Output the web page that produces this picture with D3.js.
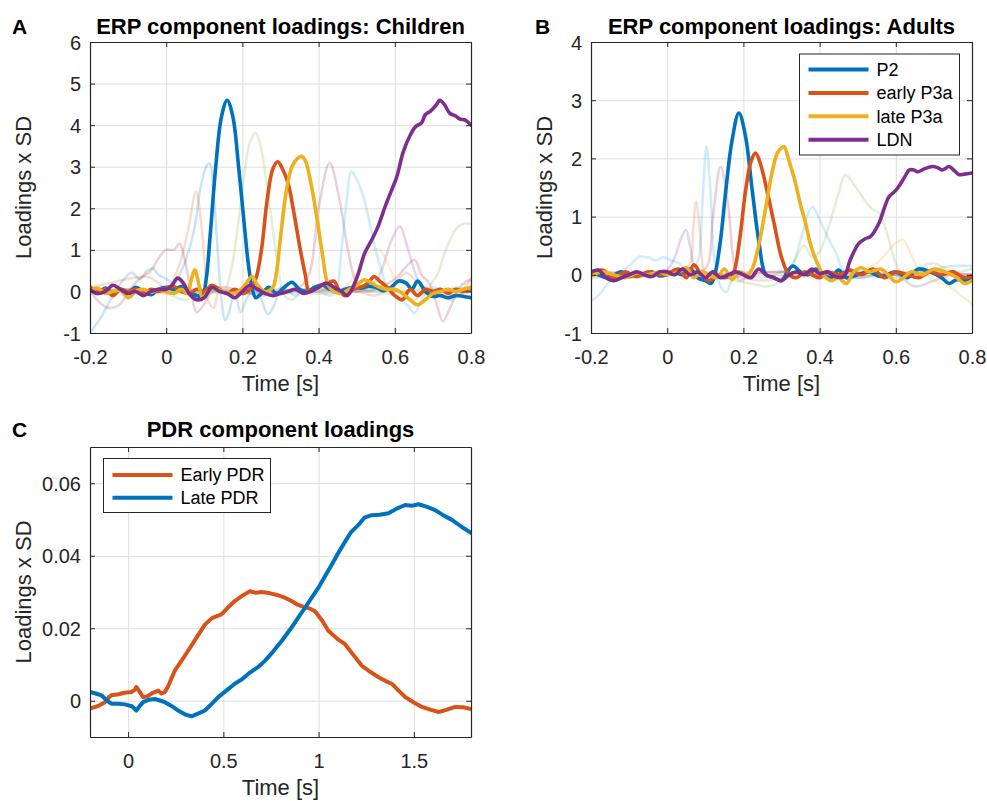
<!DOCTYPE html>
<html>
<head>
<meta charset="utf-8">
<script src="https://cdn.jsdelivr.net/npm/d3@7"></script>
<style>
  body { margin: 0; background: #fff; }
  text { font-family: "Liberation Sans", Arial, Helvetica, sans-serif; }
</style>
</head>
<body>
<script>
// ---- data (time [s], loading) ----

// tick values
const ticksErpX = [-0.2, 0, 0.2, 0.4, 0.6, 0.8];
const ticksChildY = [-1, 0, 1, 2, 3, 4, 5, 6];
const ticksAdultY = [-1, 0, 1, 2, 3, 4];
const ticksPdrX = [0, 0.5, 1, 1.5];
const ticksPdrY = [0, 0.02, 0.04, 0.06];

const erpNames = ['P2', 'early P3a', 'late P3a', 'LDN'];
const pdrNames = ['Early PDR', 'Late PDR'];

// Panel A, children: highlighted components
const childP2 = [[-0.2,0.05],[-0.18,-0.05],[-0.16,0.08],[-0.14,-0.05],[-0.12,0.05],[-0.1,-0.02],[-0.08,0.1],[-0.06,0.0],[-0.04,-0.08],[-0.02,0.05],[0,0.1],[0.02,0.05],[0.04,0.12],[0.06,0.0],[0.08,-0.1],[0.095,-0.1],[0.105,0.3],[0.115,1.3],[0.13,3.0],[0.145,4.2],[0.16,4.6],[0.175,4.2],[0.19,3.0],[0.205,1.6],[0.215,0.7],[0.225,0.1],[0.235,-0.15],[0.25,-0.05],[0.27,0.1],[0.29,-0.05],[0.31,0.1],[0.33,0.22],[0.35,0.05],[0.37,0.0],[0.39,0.1],[0.41,0.15],[0.43,0.05],[0.45,0.0],[0.47,0.05],[0.49,0.1],[0.51,0.08],[0.53,0.12],[0.55,0.1],[0.57,0.02],[0.59,0.1],[0.61,0.25],[0.63,0.2],[0.645,0.05],[0.66,0.25],[0.68,0.0],[0.7,-0.12],[0.72,-0.1],[0.74,-0.15],[0.76,-0.1],[0.78,-0.12],[0.8,-0.15]];
const childEarlyP3a = [[-0.2,0.1],[-0.18,0.0],[-0.16,0.05],[-0.14,-0.1],[-0.12,0.05],[-0.1,0.0],[-0.08,0.05],[-0.06,-0.05],[-0.04,0.05],[-0.02,0.0],[0,0.08],[0.02,0.12],[0.04,0.0],[0.06,-0.05],[0.08,0.05],[0.1,0.0],[0.12,0.15],[0.14,0.05],[0.16,-0.05],[0.18,0.05],[0.2,-0.05],[0.22,0.05],[0.235,0.3],[0.25,1.0],[0.265,2.2],[0.28,2.95],[0.293,3.12],[0.305,2.95],[0.32,2.6],[0.335,1.9],[0.35,1.1],[0.365,0.4],[0.375,0.0],[0.39,0.05],[0.41,0.15],[0.425,0.2],[0.44,0.25],[0.455,0.0],[0.47,-0.1],[0.49,0.05],[0.51,0.1],[0.53,0.2],[0.545,0.36],[0.56,0.25],[0.58,0.1],[0.6,-0.1],[0.62,-0.2],[0.64,0.05],[0.66,-0.1],[0.68,0.05],[0.7,0.0],[0.72,0.05],[0.74,-0.05],[0.76,0.05],[0.78,0.0],[0.8,0.08]];
const childLateP3a = [[-0.2,0.0],[-0.18,0.08],[-0.16,-0.05],[-0.14,0.0],[-0.12,0.02],[-0.1,-0.15],[-0.08,0.0],[-0.06,0.05],[-0.04,-0.02],[-0.02,0.05],[0,0.0],[0.02,-0.05],[0.04,0.05],[0.055,-0.05],[0.065,0.25],[0.075,0.52],[0.085,0.2],[0.095,-0.15],[0.11,0.0],[0.13,0.05],[0.15,0.0],[0.17,-0.05],[0.19,0.0],[0.21,0.2],[0.225,0.36],[0.24,0.15],[0.26,0.0],[0.28,0.1],[0.29,0.5],[0.3,1.3],[0.315,2.4],[0.33,3.0],[0.345,3.2],[0.355,3.25],[0.365,3.15],[0.38,2.6],[0.395,1.8],[0.41,0.9],[0.425,0.15],[0.44,0.0],[0.46,-0.05],[0.48,0.05],[0.5,0.15],[0.52,0.28],[0.54,0.2],[0.56,0.1],[0.58,0.05],[0.6,0.05],[0.62,-0.05],[0.64,-0.2],[0.66,-0.32],[0.68,-0.2],[0.7,-0.05],[0.72,0.0],[0.74,0.05],[0.76,0.0],[0.78,0.05],[0.8,0.1]];
const childLDN = [[-0.2,0.05],[-0.18,-0.05],[-0.16,0.0],[-0.14,0.15],[-0.12,0.05],[-0.1,-0.05],[-0.08,0.0],[-0.06,-0.1],[-0.04,0.0],[-0.02,0.05],[0,0.05],[0.015,0.15],[0.03,0.32],[0.045,0.2],[0.06,-0.05],[0.08,-0.2],[0.1,-0.15],[0.12,0.1],[0.14,0.0],[0.16,-0.05],[0.18,-0.15],[0.2,0.0],[0.22,0.15],[0.24,0.05],[0.26,-0.05],[0.28,-0.1],[0.3,-0.05],[0.32,0.0],[0.34,0.05],[0.36,-0.05],[0.38,0.0],[0.4,0.1],[0.42,0.2],[0.44,0.1],[0.46,0.0],[0.475,-0.1],[0.49,0.1],[0.505,0.45],[0.52,0.9],[0.54,1.25],[0.556,1.56],[0.575,2.05],[0.59,2.4],[0.605,2.75],[0.622,3.35],[0.64,3.75],[0.655,3.97],[0.67,4.05],[0.68,4.25],[0.695,4.35],[0.71,4.5],[0.718,4.6],[0.73,4.5],[0.744,4.29],[0.76,4.22],[0.77,4.15],[0.785,4.12],[0.8,4.0]];

// Panel A, children: remaining components (drawn faint)
const childOther1 = [[-0.2,-1.0],[-0.17,-0.6],[-0.14,-0.1],[-0.11,0.3],[-0.09,0.45],[-0.07,0.3],[-0.05,0.5],[-0.035,0.55],[-0.02,0.4],[0.0,0.3],[0.02,0.2],[0.04,0.5],[0.06,1.0],[0.075,1.56],[0.09,2.5],[0.105,3.0],[0.114,3.08],[0.125,2.3],[0.135,1.0],[0.145,-0.2],[0.155,-0.7],[0.165,-0.5],[0.18,0.0],[0.195,-0.5],[0.21,-0.2],[0.23,0.1],[0.25,-0.2],[0.267,-0.55],[0.285,-0.3],[0.3,0.1],[0.32,0.0],[0.34,-0.1],[0.36,0.05],[0.4,0.0],[0.44,0.05],[0.5,0.0],[0.56,0.05],[0.62,0.0],[0.68,0.05],[0.74,0.0],[0.8,0.05]];
const childOther2 = [[-0.2,0.0],[-0.17,-0.3],[-0.15,-0.4],[-0.12,-0.3],[-0.1,0.0],[-0.07,0.3],[-0.04,0.5],[-0.02,0.8],[0.0,1.0],[0.02,1.0],[0.035,1.15],[0.05,0.7],[0.065,0.0],[0.08,-0.5],[0.1,-0.3],[0.12,0.0],[0.15,0.1],[0.2,0.0],[0.25,-0.1],[0.3,0.0],[0.35,0.1],[0.376,0.44],[0.4,2.0],[0.429,3.09],[0.455,2.2],[0.477,1.0],[0.5,0.2],[0.53,0.0],[0.56,0.1],[0.6,0.3],[0.63,0.6],[0.652,0.76],[0.67,0.4],[0.69,0.2],[0.71,-0.3],[0.726,-0.72],[0.745,-0.4],[0.77,0.1],[0.8,0.3]];
const childOther3 = [[-0.2,0.1],[-0.15,0.2],[-0.1,0.3],[-0.05,0.35],[-0.02,0.2],[0.0,0.0],[0.02,0.3],[0.04,0.8],[0.06,1.6],[0.078,2.4],[0.09,1.8],[0.1,0.8],[0.11,-0.2],[0.125,-0.4],[0.14,0.0],[0.2,0.0],[0.3,0.05],[0.4,-0.05],[0.5,0.0],[0.55,-0.1],[0.6,0.2],[0.63,0.45],[0.66,0.2],[0.7,0.0],[0.75,-0.2],[0.8,0.3]];
const childOther4 = [[-0.2,0.0],[-0.1,0.05],[0.0,-0.05],[0.05,-0.2],[0.1,0.0],[0.15,0.0],[0.17,0.5],[0.188,1.56],[0.205,2.8],[0.22,3.6],[0.235,3.81],[0.25,3.4],[0.265,2.5],[0.28,1.5],[0.295,0.5],[0.31,-0.1],[0.33,-0.2],[0.36,0.0],[0.4,0.05],[0.45,0.0],[0.5,0.05],[0.55,0.0],[0.6,-0.1],[0.65,-0.2],[0.68,0.0],[0.7,0.25],[0.714,0.45],[0.73,0.9],[0.749,1.32],[0.765,1.55],[0.783,1.64],[0.8,1.62]];
const childOther5 = [[-0.2,0.0],[-0.1,0.0],[0.0,0.05],[0.1,-0.05],[0.2,0.05],[0.3,-0.05],[0.4,0.0],[0.43,-0.1],[0.445,0.0],[0.46,1.0],[0.475,2.3],[0.486,2.89],[0.5,2.7],[0.52,2.2],[0.535,1.6],[0.547,1.1],[0.565,0.5],[0.58,0.1],[0.6,-0.1],[0.63,-0.3],[0.652,-0.52],[0.67,-0.2],[0.7,0.1],[0.73,0.0],[0.76,0.1],[0.8,0.0]];
const childOther6 = [[-0.2,0.0],[-0.1,0.05],[0.0,0.0],[0.1,0.05],[0.2,-0.05],[0.3,0.0],[0.4,0.05],[0.5,0.0],[0.53,0.1],[0.56,0.4],[0.59,1.2],[0.613,1.56],[0.635,1.0],[0.66,0.3],[0.69,0.0],[0.72,0.0],[0.76,-0.1],[0.8,0.0]];
const childOther7 = [[-0.2,0.05],[-0.1,0.0],[0.0,-0.05],[0.1,0.0],[0.2,0.05],[0.3,0.0],[0.4,0.05],[0.45,0.0],[0.48,0.2],[0.51,0.6],[0.535,0.95],[0.56,1.0],[0.585,0.6],[0.61,0.15],[0.64,0.0],[0.7,-0.05],[0.8,0.0]];

// Panel B, adults: highlighted components
const adultP2 = [[-0.2,0.05],[-0.18,0.0],[-0.16,-0.05],[-0.14,0.0],[-0.12,0.05],[-0.1,-0.03],[-0.08,0.02],[-0.06,0.0],[-0.04,0.05],[-0.02,-0.02],[0.0,0.0],[0.02,0.05],[0.04,0.0],[0.06,0.1],[0.08,-0.05],[0.1,-0.1],[0.115,-0.15],[0.125,0.0],[0.14,0.6],[0.154,1.46],[0.17,2.3],[0.188,2.78],[0.205,2.4],[0.223,1.46],[0.24,0.6],[0.259,0.0],[0.28,-0.05],[0.3,-0.1],[0.315,0.05],[0.33,0.15],[0.35,0.05],[0.37,0.0],[0.39,0.1],[0.41,0.0],[0.43,-0.05],[0.45,0.08],[0.47,-0.05],[0.5,0.0],[0.53,0.05],[0.56,-0.03],[0.6,0.05],[0.63,-0.05],[0.66,0.1],[0.69,0.05],[0.72,-0.05],[0.74,-0.15],[0.76,-0.08],[0.78,-0.1],[0.8,-0.05]];
const adultEarlyP3a = [[-0.2,0.02],[-0.17,0.08],[-0.14,-0.05],[-0.11,0.05],[-0.08,-0.03],[-0.05,0.05],[-0.02,0.0],[0.0,0.02],[0.03,0.1],[0.05,-0.05],[0.07,0.17],[0.09,0.0],[0.11,-0.1],[0.13,0.0],[0.15,-0.05],[0.165,-0.02],[0.175,0.05],[0.19,0.6],[0.206,1.46],[0.22,1.95],[0.232,2.09],[0.245,1.9],[0.26,1.5],[0.28,0.9],[0.3,0.3],[0.32,0.0],[0.34,-0.05],[0.36,0.05],[0.38,0.0],[0.4,-0.05],[0.42,0.05],[0.45,0.0],[0.48,0.08],[0.51,0.0],[0.54,0.1],[0.57,-0.05],[0.6,0.05],[0.63,0.0],[0.66,-0.05],[0.69,0.05],[0.72,0.0],[0.75,0.05],[0.78,-0.05],[0.8,-0.02]];
const adultLateP3a = [[-0.2,-0.02],[-0.17,0.05],[-0.14,0.0],[-0.11,-0.05],[-0.08,0.03],[-0.05,0.0],[-0.02,0.05],[0.0,0.0],[0.03,0.05],[0.05,0.12],[0.07,-0.05],[0.09,0.05],[0.11,0.0],[0.13,-0.05],[0.15,0.1],[0.17,-0.08],[0.19,0.05],[0.21,0.0],[0.223,0.1],[0.24,0.5],[0.259,1.17],[0.275,1.75],[0.289,2.09],[0.3,2.18],[0.307,2.2],[0.32,1.95],[0.337,1.57],[0.35,1.2],[0.363,0.89],[0.375,0.55],[0.39,0.26],[0.41,0.0],[0.43,-0.1],[0.45,-0.05],[0.47,-0.15],[0.49,0.05],[0.51,0.12],[0.53,0.05],[0.56,0.1],[0.58,0.0],[0.6,-0.12],[0.62,-0.05],[0.64,0.05],[0.67,0.0],[0.7,0.1],[0.73,0.05],[0.76,-0.05],[0.78,-0.15],[0.8,-0.1]];
const adultLDN = [[-0.2,0.05],[-0.18,0.08],[-0.16,-0.05],[-0.14,-0.1],[-0.12,-0.05],[-0.1,0.0],[-0.08,0.05],[-0.06,0.0],[-0.04,-0.03],[-0.02,0.05],[0.0,0.05],[0.02,0.0],[0.04,0.1],[0.06,0.0],[0.08,0.05],[0.1,-0.05],[0.12,0.05],[0.14,-0.05],[0.16,0.0],[0.18,0.05],[0.2,0.0],[0.22,-0.05],[0.24,0.1],[0.26,0.0],[0.28,-0.05],[0.3,-0.1],[0.32,0.0],[0.34,0.05],[0.36,0.0],[0.38,0.1],[0.4,0.02],[0.42,0.05],[0.44,-0.03],[0.464,-0.03],[0.48,0.25],[0.503,0.54],[0.52,0.62],[0.534,0.66],[0.556,0.89],[0.57,1.15],[0.582,1.34],[0.6,1.45],[0.613,1.57],[0.625,1.7],[0.635,1.8],[0.648,1.8],[0.658,1.77],[0.675,1.82],[0.696,1.86],[0.71,1.84],[0.722,1.8],[0.74,1.86],[0.755,1.78],[0.766,1.72],[0.78,1.73],[0.8,1.75]];

// Panel B, adults: remaining components (faint)
const adultOther1 = [[-0.2,-0.45],[-0.18,-0.35],[-0.15,-0.1],[-0.13,0.03],[-0.1,0.15],[-0.074,0.31],[-0.05,0.3],[-0.03,0.25],[-0.01,0.3],[0.01,0.25],[0.03,0.2],[0.05,0.1],[0.07,0.1],[0.083,0.3],[0.093,1.3],[0.103,2.21],[0.113,1.5],[0.125,0.2],[0.14,-0.2],[0.155,-0.3],[0.17,-0.1],[0.2,0.0],[0.25,-0.05],[0.3,0.05],[0.327,0.15],[0.35,0.6],[0.37,1.05],[0.381,1.17],[0.4,0.95],[0.425,0.6],[0.445,0.35],[0.46,0.1],[0.5,-0.05],[0.55,0.0],[0.6,-0.05],[0.65,0.05],[0.7,0.1],[0.75,0.15],[0.8,0.15]];
const adultOther2 = [[-0.2,0.0],[-0.15,0.05],[-0.1,0.0],[-0.05,0.05],[0.0,0.0],[0.05,0.05],[0.1,0.1],[0.12,1.0],[0.14,1.86],[0.16,1.2],[0.175,0.2],[0.19,-0.1],[0.22,0.0],[0.3,0.05],[0.4,0.0],[0.5,0.05],[0.6,0.0],[0.7,0.05],[0.8,0.0]];
const adultOther3 = [[-0.2,0.05],[-0.1,-0.05],[0.0,0.05],[0.03,0.05],[0.06,0.2],[0.068,0.8],[0.076,1.26],[0.085,0.8],[0.095,0.1],[0.11,-0.1],[0.15,0.0],[0.25,-0.1],[0.35,0.0],[0.45,0.05],[0.55,0.0],[0.65,0.05],[0.75,0.0],[0.8,-0.05]];
const adultOther4 = [[-0.2,-0.05],[-0.1,0.0],[0.0,0.1],[0.02,0.3],[0.035,0.6],[0.049,0.77],[0.06,0.5],[0.075,0.0],[0.09,-0.1],[0.15,0.0],[0.3,0.05],[0.5,-0.05],[0.6,0.0],[0.65,-0.2],[0.7,-0.1],[0.75,0.0],[0.8,0.0]];
const adultOther5 = [[-0.2,0.0],[-0.1,-0.05],[0.0,0.0],[0.1,0.05],[0.18,-0.1],[0.22,-0.15],[0.26,-0.2],[0.3,-0.1],[0.33,0.2],[0.36,0.5],[0.38,0.3],[0.4,0.4],[0.425,0.85],[0.45,1.4],[0.468,1.72],[0.49,1.55],[0.512,1.34],[0.535,1.15],[0.556,1.06],[0.57,0.85],[0.582,0.6],[0.6,0.2],[0.62,0.0],[0.65,0.1],[0.7,0.2],[0.75,0.05],[0.8,0.1]];
const adultOther6 = [[-0.2,0.05],[-0.1,0.0],[0.0,0.05],[0.1,0.0],[0.2,0.05],[0.3,0.0],[0.4,-0.05],[0.5,0.05],[0.55,0.2],[0.6,0.55],[0.62,0.6],[0.64,0.35],[0.66,0.1],[0.7,-0.1],[0.74,-0.2],[0.77,-0.35],[0.8,-0.5]];

// Panel C, pupil dilation response
const earlyPDR = [[-0.2,-0.0022],[-0.16,-0.0015],[-0.123,-0.0005],[-0.1,0.001],[-0.088,0.0015],[-0.05,0.0018],[-0.02,0.0022],[0.017,0.0024],[0.035,0.003],[0.043,0.0038],[0.06,0.0025],[0.079,0.001],[0.1,0.0012],[0.13,0.0022],[0.158,0.0028],[0.175,0.002],[0.193,0.0024],[0.21,0.004],[0.245,0.0083],[0.28,0.011],[0.315,0.0138],[0.36,0.0175],[0.403,0.021],[0.44,0.0228],[0.49,0.0238],[0.52,0.0255],[0.56,0.0275],[0.6,0.029],[0.64,0.0302],[0.67,0.0298],[0.7,0.03],[0.74,0.0297],[0.788,0.0291],[0.82,0.0285],[0.858,0.0275],[0.89,0.0265],[0.911,0.0261],[0.95,0.0255],[0.981,0.0247],[1.02,0.022],[1.051,0.0193],[1.1,0.017],[1.139,0.0156],[1.18,0.0128],[1.226,0.0097],[1.27,0.008],[1.314,0.0065],[1.35,0.0055],[1.384,0.0047],[1.42,0.0028],[1.455,0.001],[1.5,-0.0005],[1.542,-0.0017],[1.59,-0.0025],[1.63,-0.0031],[1.67,-0.0025],[1.717,-0.0017],[1.76,-0.0018],[1.8,-0.0023]];
const latePDR = [[-0.2,0.0024],[-0.17,0.002],[-0.14,0.0015],[-0.11,0.0],[-0.088,-0.0008],[-0.05,-0.0008],[-0.018,-0.001],[0.02,-0.0015],[0.043,-0.0027],[0.06,-0.0015],[0.079,-0.0004],[0.11,0.0003],[0.14,0.0005],[0.17,0.0],[0.193,-0.0004],[0.23,-0.0015],[0.263,-0.0027],[0.3,-0.0038],[0.333,-0.0043],[0.37,-0.0035],[0.403,-0.0027],[0.44,-0.0008],[0.473,0.001],[0.52,0.003],[0.56,0.0047],[0.6,0.006],[0.63,0.0074],[0.68,0.0092],[0.718,0.011],[0.76,0.0135],[0.806,0.0165],[0.858,0.0202],[0.9,0.0235],[0.929,0.0257],[0.965,0.0285],[0.999,0.0312],[1.035,0.0345],[1.069,0.0375],[1.1,0.0405],[1.139,0.0439],[1.17,0.0465],[1.209,0.0485],[1.24,0.0505],[1.279,0.0512],[1.32,0.0513],[1.367,0.0517],[1.41,0.053],[1.455,0.054],[1.49,0.0538],[1.525,0.0542],[1.57,0.0535],[1.612,0.0526],[1.66,0.051],[1.7,0.0499],[1.75,0.048],[1.8,0.0463]];

// matlab default colour order
const colors = {
  blue: '#0072BD', red: '#D95319', yellow: '#EDB120', purple: '#7E2F8E',
  green: '#77AC30', cyan: '#4DBEEE', maroon: '#A2142F'
};
const axisColor = '#262626';

const svg = d3.select('body').append('svg')
  .attr('width', 987)
  .attr('height', 801);

const fmt = d => String(+d.toFixed(3));
let clipId = 0;

// axes frame with grid, returns scales and a clipped layer for the data
function makePanel(cfg) {
  const w = cfg.x1 - cfg.x0;
  const h = cfg.y1 - cfg.y0;
  const g = svg.append('g').attr('transform', `translate(${cfg.x0},${cfg.y0})`);
  const x = d3.scaleLinear().domain(cfg.xDomain).range([0, w]);
  const y = d3.scaleLinear().domain(cfg.yDomain).range([h, 0]);

  // grid
  g.append('g').attr('class', 'grid')
    .attr('transform', `translate(0,${h})`)
    .call(d3.axisBottom(x).tickValues(cfg.xTicks).tickSize(-h).tickFormat(''));
  g.append('g').attr('class', 'grid')
    .call(d3.axisLeft(y).tickValues(cfg.yTicks).tickSize(-w).tickFormat(''));
  g.selectAll('.grid .domain').remove();
  g.selectAll('.grid line').attr('stroke', '#dfdfdf').attr('stroke-width', 1);

  const id = 'clip' + (clipId++);
  g.append('clipPath').attr('id', id)
    .append('rect').attr('x', 0).attr('y', -2).attr('width', w).attr('height', h + 4);
  const plot = g.append('g').attr('clip-path', `url(#${id})`);

  return { g, x, y, w, h, plot, cfg };
}

// box, inward ticks, labels, title
function finishPanel(p) {
  const { g, x, y, w, h, cfg } = p;

  const xb = g.append('g').attr('transform', `translate(0,${h})`).attr('color', axisColor)
    .call(d3.axisBottom(x).tickValues(cfg.xTicks).tickSizeInner(-5).tickSizeOuter(0).tickFormat(fmt));
  xb.selectAll('text').attr('y', 30.5).attr('dy', 0).attr('font-size', 20);

  const yl = g.append('g').attr('color', axisColor)
    .call(d3.axisLeft(y).tickValues(cfg.yTicks).tickSizeInner(-5).tickSizeOuter(0).tickFormat(fmt));
  yl.selectAll('text').attr('x', -9).attr('dy', '0.35em').attr('font-size', 20);

  g.append('g').attr('color', axisColor)
    .call(d3.axisTop(x).tickValues(cfg.xTicks).tickSizeInner(-5).tickSizeOuter(0).tickFormat(''));
  g.append('g').attr('transform', `translate(${w},0)`).attr('color', axisColor)
    .call(d3.axisRight(y).tickValues(cfg.yTicks).tickSizeInner(-5).tickSizeOuter(0).tickFormat(''));
  g.selectAll('.domain').attr('stroke-width', 1.2);

  g.append('text')
    .attr('x', w / 2).attr('y', h + 58)
    .attr('text-anchor', 'middle')
    .attr('font-size', 22).attr('fill', axisColor)
    .text('Time [s]');

  g.append('text')
    .attr('transform', `translate(${cfg.yLabelX - cfg.x0},${h / 2}) rotate(-90)`)
    .attr('text-anchor', 'middle')
    .attr('font-size', 22).attr('fill', axisColor)
    .text('Loadings x SD');

  g.append('text')
    .attr('x', w / 2).attr('y', cfg.titleY - cfg.y0)
    .attr('text-anchor', 'middle')
    .attr('font-size', 22).attr('font-weight', 'bold').attr('fill', '#000')
    .text(cfg.title);

  svg.append('text')
    .attr('x', cfg.letterX).attr('y', cfg.titleY)
    .attr('font-size', 21).attr('font-weight', 'bold').attr('fill', '#000')
    .text(cfg.letter);
}

function drawLine(p, data, color, width, opacity, curve) {
  const line = d3.line()
    .x(d => p.x(d[0]))
    .y(d => p.y(d[1]))
    .curve(curve || d3.curveCatmullRom.alpha(0.5));
  p.plot.append('path')
    .datum(data)
    .attr('fill', 'none')
    .attr('stroke', color)
    .attr('stroke-width', width)
    .attr('stroke-opacity', opacity)
    .attr('stroke-linejoin', 'round')
    .attr('stroke-linecap', 'round')
    .attr('d', line);
}

function drawLegend(box, names, cols) {
  const lg = svg.append('g').attr('transform', `translate(${box.x},${box.y})`);
  lg.append('rect')
    .attr('width', box.w).attr('height', box.h)
    .attr('fill', '#fff').attr('stroke', axisColor).attr('stroke-width', 1);
  names.forEach((n, i) => {
    const cy = box.first + i * box.step;
    lg.append('line')
      .attr('x1', 9).attr('x2', 69).attr('y1', cy).attr('y2', cy)
      .attr('stroke', cols[i]).attr('stroke-width', 4);
    lg.append('text')
      .attr('x', 77).attr('y', cy).attr('dy', '0.35em')
      .attr('font-size', 18).attr('fill', '#000')
      .text(n);
  });
}

// ---- Panel A ----
const pA = makePanel({
  x0: 90, x1: 471, y0: 42, y1: 333,
  xDomain: [-0.2, 0.8], yDomain: [-1, 6],
  xTicks: ticksErpX, yTicks: ticksChildY,
  title: 'ERP component loadings: Children', titleY: 34,
  letter: 'A', letterX: 12, yLabelX: 31
});
[[childOther1, colors.blue, 0.2], [childOther2, colors.maroon, 0.2], [childOther3, colors.red, 0.2],
 [childOther4, colors.green, 0.2], [childOther5, colors.cyan, 0.28], [childOther6, colors.purple, 0.2],
 [childOther7, colors.yellow, 0.2]]
  .forEach(s => drawLine(pA, s[0], s[1], 2.5, s[2]));
drawLine(pA, childP2, colors.blue, 3.6, 1);
drawLine(pA, childEarlyP3a, colors.red, 3.6, 1);
drawLine(pA, childLateP3a, colors.yellow, 3.6, 1);
drawLine(pA, childLDN, colors.purple, 3.6, 1);
finishPanel(pA);

// ---- Panel B ----
const pB = makePanel({
  x0: 591, x1: 972, y0: 42, y1: 333,
  xDomain: [-0.2, 0.8], yDomain: [-1, 4],
  xTicks: ticksErpX, yTicks: ticksAdultY,
  title: 'ERP component loadings: Adults', titleY: 34,
  letter: 'B', letterX: 535, yLabelX: 552
});
[[adultOther1, colors.cyan, 0.28], [adultOther2, colors.maroon, 0.2], [adultOther3, colors.red, 0.2],
 [adultOther4, colors.purple, 0.2], [adultOther5, colors.green, 0.2], [adultOther6, colors.yellow, 0.22]]
  .forEach(s => drawLine(pB, s[0], s[1], 2.5, s[2]));
drawLine(pB, adultP2, colors.blue, 3.6, 1);
drawLine(pB, adultEarlyP3a, colors.red, 3.6, 1);
drawLine(pB, adultLateP3a, colors.yellow, 3.6, 1);
drawLine(pB, adultLDN, colors.purple, 3.6, 1);
finishPanel(pB);
drawLegend({ x: 799.5, y: 54, w: 160, h: 101, first: 15.5, step: 23.4 }, erpNames,
  [colors.blue, colors.red, colors.yellow, colors.purple]);

// ---- Panel C ----
const pC = makePanel({
  x0: 90, x1: 471, y0: 447, y1: 737,
  xDomain: [-0.2, 1.8], yDomain: [-0.01, 0.07],
  xTicks: ticksPdrX, yTicks: ticksPdrY,
  title: 'PDR component loadings', titleY: 437,
  letter: 'C', letterX: 12, yLabelX: 31
});
drawLine(pC, earlyPDR, colors.red, 4, 1, d3.curveLinear);
drawLine(pC, latePDR, colors.blue, 4, 1, d3.curveLinear);
finishPanel(pC);
drawLegend({ x: 103.5, y: 458.5, w: 167, h: 54, first: 16.5, step: 22.7 }, pdrNames,
  [colors.red, colors.blue]);
</script>
</body>
</html>
